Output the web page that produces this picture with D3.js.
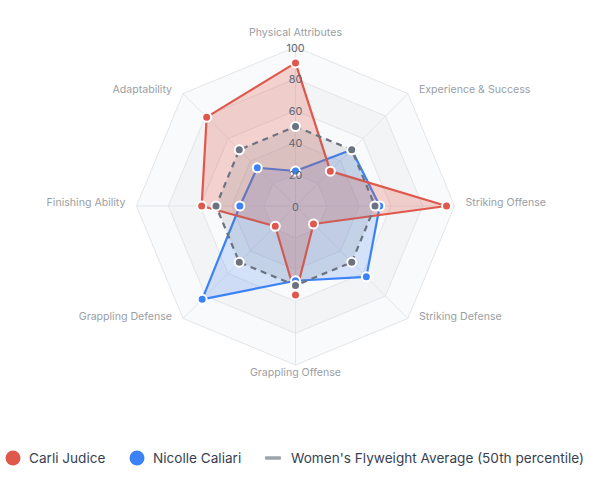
<!DOCTYPE html>
<html>
<head>
<meta charset="utf-8">
<script src="https://cdn.jsdelivr.net/npm/d3@7"></script>
<style>
  html, body { margin: 0; padding: 0; background: #ffffff; }
  svg { display: block; font-family: Inter, "Noto Sans", "Liberation Sans", sans-serif; }
</style>
</head>
<body>
<svg id="chart" width="591" height="478"></svg>
<script>
// ---- data ----
const axes = ["Physical Attributes", "Experience & Success", "Striking Offense", "Striking Defense",
              "Grappling Offense", "Grappling Defense", "Finishing Ability", "Adaptability"];
const carliJudice    = [90, 31, 95, 16, 56, 18, 59, 79];
const nicolleCaliari = [22, 50, 53, 63, 47, 83, 35, 34];
const flyweightAvg   = [50, 50, 50, 50, 50, 50, 50, 50];
const tickValues = [0, 20, 40, 60, 80, 100];
const seriesNames = ["Carli Judice", "Nicolle Caliari", "Women's Flyweight Average (50th percentile)"];

// ---- layout ----
const svg = d3.select("#chart");
const cx = 295.5, cy = 206, R = 159;
const r = d3.scaleLinear().domain([0, 100]).range([0, R]);
const n = axes.length;
const ang = d3.scaleLinear().domain([0, n]).range([0, 2 * Math.PI]);
const px = (i, v) => cx + r(v) * Math.sin(ang(i));
const py = (i, v) => cy - r(v) * Math.cos(ang(i));

const g = svg.append("g");

// background bands (outer to inner)
const bandFills = ["#f9fafb", "#f3f4f6"];
const ringPoly = v => d3.range(n).map(i => [px(i, v), py(i, v)].join(",")).join(" ");
tickValues.slice(1).reverse().forEach((v, k) => {
  g.append("polygon").attr("points", ringPoly(v))
    .attr("fill", bandFills[k % 2]).attr("stroke", "none");
});
// ring lines
tickValues.slice(1).forEach(v => {
  g.append("polygon").attr("points", ringPoly(v))
    .attr("fill", "none").attr("stroke", "#e3e5e8").attr("stroke-width", 1);
});
// spokes
d3.range(n).forEach(i => {
  g.append("line").attr("x1", cx).attr("y1", cy)
    .attr("x2", px(i, 100)).attr("y2", py(i, 100))
    .attr("stroke", "#e3e5e8").attr("stroke-width", 1);
});

// series
const series = [
  { name: seriesNames[1], values: nicolleCaliari, color: "#3b82f6", fill: "rgba(59,130,246,0.2)", dash: null },
  { name: seriesNames[0], values: carliJudice, color: "#e0584c", fill: "rgba(224,88,76,0.25)", dash: null },
  { name: seriesNames[2], values: flyweightAvg, color: "#6b7280", fill: "rgba(107,114,128,0.14)", dash: "6,5" }
];
const radial = d3.lineRadial()
  .angle((d, i) => ang(i))
  .radius(d => r(d))
  .curve(d3.curveLinearClosed);

series.forEach(s => {
  g.append("path").datum(s.values)
    .attr("transform", `translate(${cx},${cy})`)
    .attr("d", radial)
    .attr("fill", s.fill)
    .attr("stroke", s.color)
    .attr("stroke-width", 2.2)
    .attr("stroke-dasharray", s.dash)
    .attr("stroke-linejoin", "round");
});
series.forEach(s => {
  g.selectAll(null).data(s.values).enter().append("circle")
    .attr("cx", (d, i) => px(i, d)).attr("cy", (d, i) => py(i, d))
    .attr("r", 4.5)
    .attr("fill", s.color)
    .attr("stroke", "#ffffff").attr("stroke-width", 2);
});

// tick labels
g.selectAll(null).data(tickValues).enter().append("text")
  .attr("x", cx).attr("y", d => cy - r(d) + 1)
  .attr("text-anchor", "middle").attr("dominant-baseline", "central")
  .attr("font-size", 10.8).attr("fill", "#5f6673")
  .text(d => d);

// point labels
axes.forEach((a, i) => {
  const s = Math.sin(ang(i)), c = Math.cos(ang(i));
  let x = px(i, 100), y = py(i, 100), anchor = "middle";
  if (s > 0.01) { x += 11; anchor = "start"; }
  else if (s < -0.01) { x -= 11; anchor = "end"; }
  if (Math.abs(s) < 0.01) y += (c > 0 ? -15 : 7);
  else if (c > 0.01) y -= 4.5;
  else if (c < -0.01) y -= 2;
  else y -= 4;
  g.append("text").attr("x", x).attr("y", y)
    .attr("text-anchor", anchor).attr("dominant-baseline", "central")
    .attr("font-size", 10.6).attr("fill", "#9a9ea5")
    .text(a);
});

// legend
const legend = svg.append("g");
const ly = 458;
const legendItems = [
  { name: seriesNames[0], color: "#e0584c", type: "dot", x: 13, tx: 29 },
  { name: seriesNames[1], color: "#3b82f6", type: "dot", x: 137, tx: 153 },
  { name: seriesNames[2], color: "#9ca3af", type: "line", x: 265, tx: 291 }
];
legendItems.forEach(it => {
  if (it.type === "dot") {
    legend.append("circle").attr("cx", it.x).attr("cy", ly).attr("r", 7.5).attr("fill", it.color);
  } else {
    legend.append("rect").attr("x", it.x).attr("y", ly - 1.75).attr("width", 16).attr("height", 3.5)
      .attr("rx", 1).attr("fill", it.color);
  }
  legend.append("text").attr("x", it.tx).attr("y", ly)
    .attr("dominant-baseline", "central").attr("font-size", 13.6).attr("fill", "#374151")
    .text(it.name);
});
</script>
</body>
</html>
